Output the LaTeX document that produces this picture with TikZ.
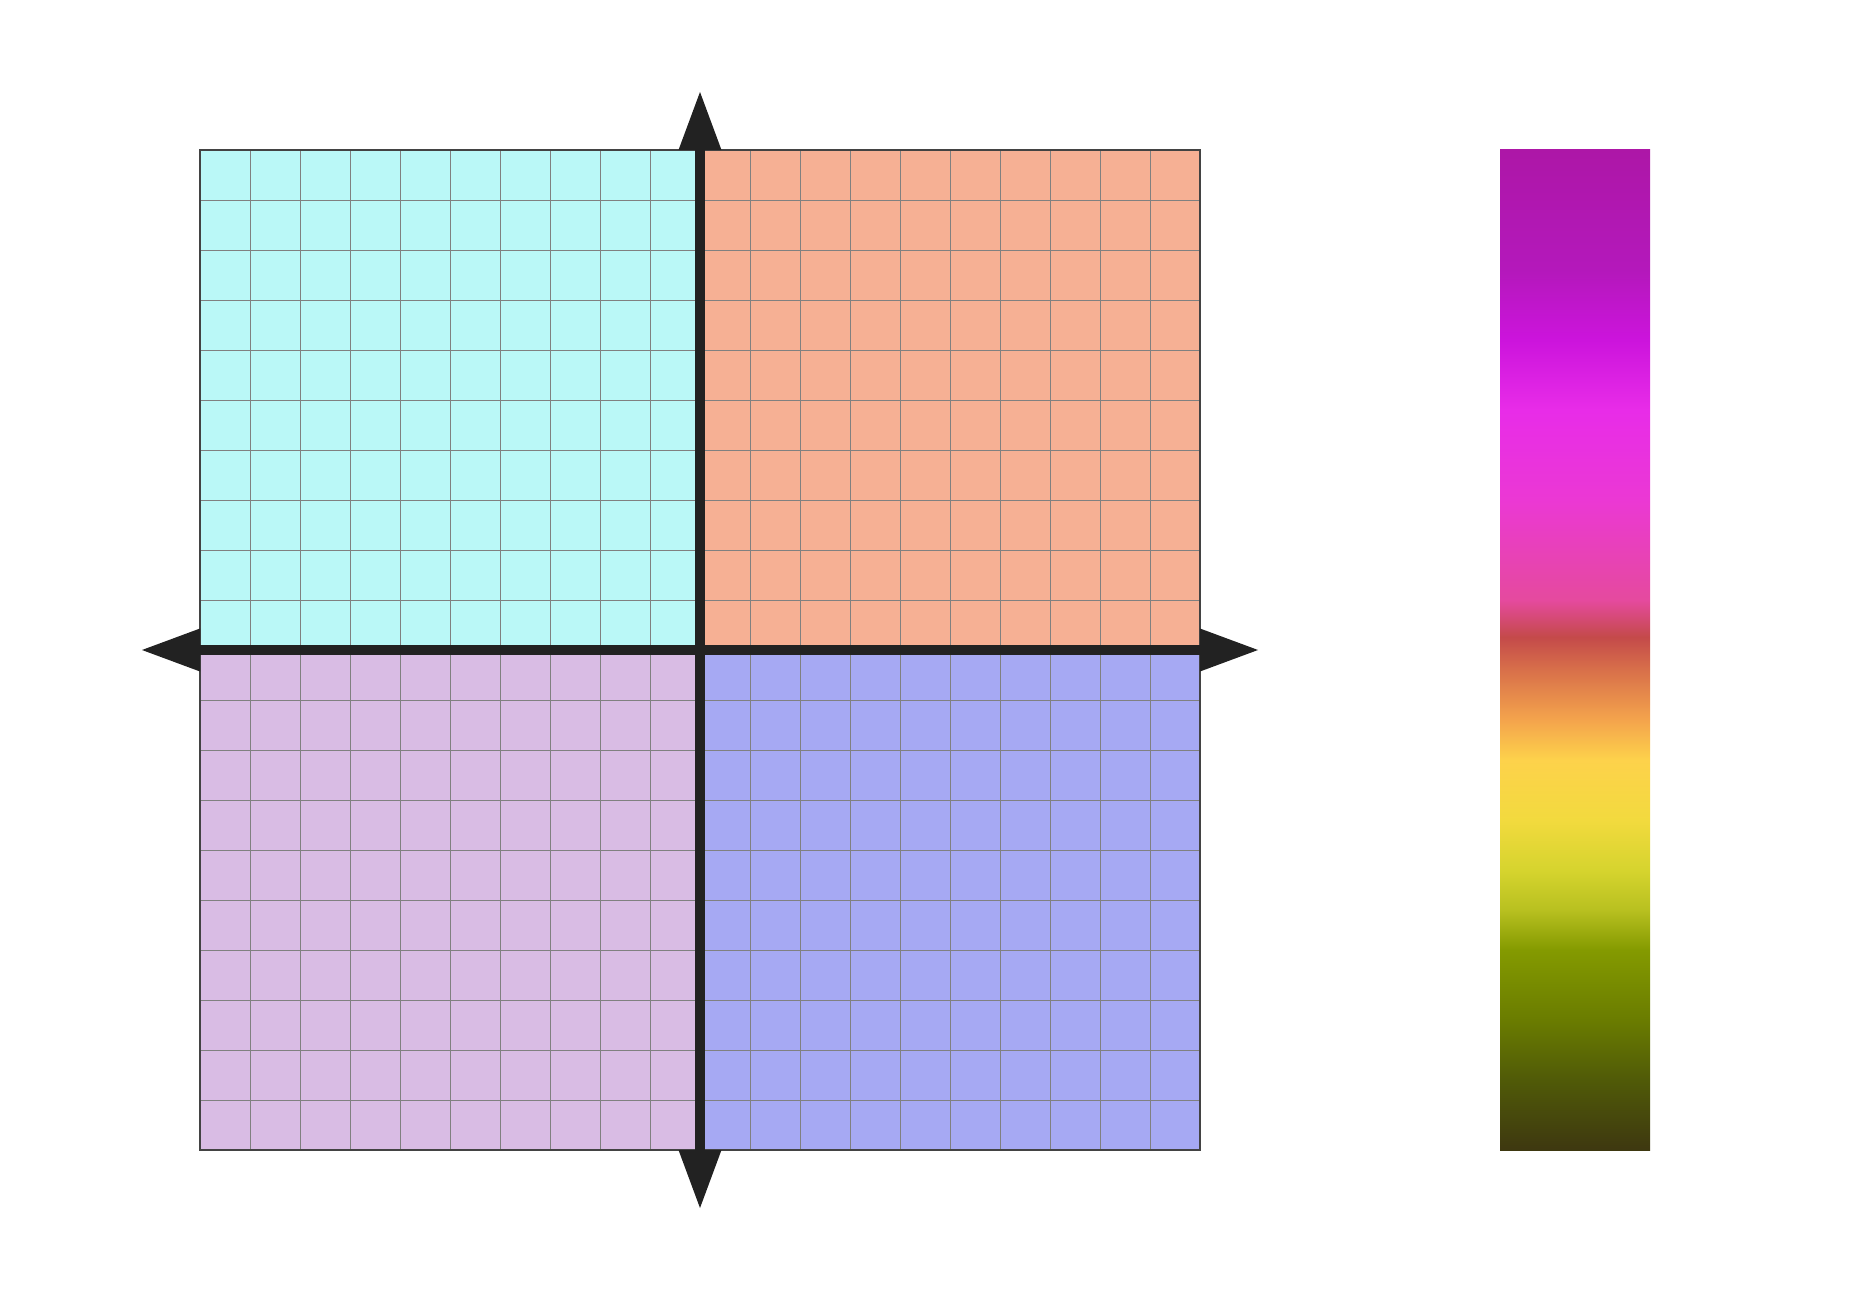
\documentclass[tikz,border=0pt]{standalone}
\definecolor{qcyan}{HTML}{BAF8F7}
\definecolor{qorange}{HTML}{F6B094}
\definecolor{qlav}{HTML}{D9BCE4}
\definecolor{qblue}{HTML}{A6A9F3}
\definecolor{gridc}{HTML}{808080}
\definecolor{axisc}{HTML}{222222}
\definecolor{cb00}{HTML}{AD17A7}
\definecolor{cb12}{HTML}{B418BB}
\definecolor{cb19}{HTML}{CC14DC}
\definecolor{cb26}{HTML}{E82CE8}
\definecolor{cb35}{HTML}{EB38D4}
\definecolor{cb45}{HTML}{E54A9E}
\definecolor{cb49}{HTML}{C44A4A}
\definecolor{cb52}{HTML}{D8704A}
\definecolor{cb57}{HTML}{F4A44C}
\definecolor{cb61}{HTML}{FDD24B}
\definecolor{cb67}{HTML}{F2DA3E}
\definecolor{cb72}{HTML}{D6D42E}
\definecolor{cb76}{HTML}{B8C020}
\definecolor{cb80}{HTML}{849A00}
\definecolor{cb87}{HTML}{6A7C00}
\definecolor{cb93}{HTML}{505A08}
\definecolor{cb100}{HTML}{3E3810}
\pgfdeclareverticalshading{cbar}{100bp}{%
color(0bp)=(cb100); color(25bp)=(cb100); color(28.5bp)=(cb93); color(31.5bp)=(cb87);
color(35bp)=(cb80); color(37bp)=(cb76); color(39bp)=(cb72); color(41.5bp)=(cb67);
color(44.5bp)=(cb61); color(46.5bp)=(cb57); color(49bp)=(cb52); color(50.65bp)=(cb49);
color(52.5bp)=(cb45); color(57.5bp)=(cb35); color(62bp)=(cb26); color(65.5bp)=(cb19);
color(69bp)=(cb12); color(75bp)=(cb00); color(100bp)=(cb00)}
\tikzset{
  gridline/.style={draw=gridc, line width=0.55pt},
  borderline/.style={draw=axisc!85, line width=0.6pt},
  axisline/.style={draw=axisc, line width=5.7pt},
  tip/.style={fill=axisc},
}
\begin{document}
\begin{tikzpicture}[x=0.02cm, y=-0.02cm]
\useasboundingbox (0,0) rectangle (1850,1300);
% quadrant fills
\fill[qcyan] (200,150) rectangle (700,650);
\fill[qorange] (700,150) rectangle (1200,650);
\fill[qlav] (200,650) rectangle (700,1150);
\fill[qblue] (700,650) rectangle (1200,1150);
% grid
\foreach \i in {250,300,...,1150} {
  \draw[gridline] (\i,150) -- (\i,1150);
}
\foreach \j in {200,250,...,1100} {
  \draw[gridline] (200,\j) -- (1200,\j);
}
\draw[borderline] (200,150) rectangle (1200,1150);
% axes
\coordinate (top) at (700,92);
\coordinate (bottom) at (700,1208);
\coordinate (left) at (142,650);
\coordinate (right) at (1258,650);
\draw[axisline] (700,150) -- (700,1150);
\draw[axisline] (200,650) -- (1200,650);
\fill[tip] (top) -- (678.5,150) -- (721.5,150) -- cycle;
\fill[tip] (bottom) -- (678.5,1150) -- (721.5,1150) -- cycle;
\fill[tip] (left) -- (200,628.5) -- (200,671.5) -- cycle;
\fill[tip] (right) -- (1200,628.5) -- (1200,671.5) -- cycle;
% colour bar
\shade[shading=cbar] (1500,150) rectangle (1650,1150);
\end{tikzpicture}
\end{document}
